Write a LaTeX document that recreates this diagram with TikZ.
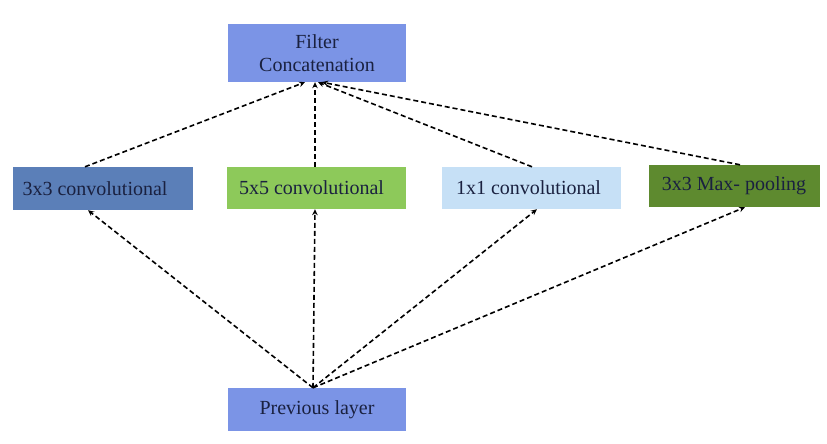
\documentclass[tikz,border=0pt]{standalone}
\usepackage{fontspec}
\setmainfont{Liberation Serif}
\usetikzlibrary{arrows.meta}
\definecolor{periwinkle}{HTML}{7B94E6}
\definecolor{steelblue}{HTML}{5B7FB8}
\definecolor{leafgreen}{HTML}{8DC95A}
\definecolor{paleblue}{HTML}{C6E0F6}
\definecolor{olivegreen}{HTML}{5E8A2F}
\definecolor{inkblue}{HTML}{1A2140}
\tikzset{
  layerbox/.style={inner sep=0pt, minimum height=42pt, text=inkblue,
    font=\fontsize{20}{23}\selectfont, align=center},
  flow/.style={draw=black, line width=1.6pt, dash pattern=on 5pt off 3pt,
    -{Stealth[length=6pt,width=5.5pt]}}
}
\begin{document}
\begin{tikzpicture}[x=1pt,y=1pt]
  \useasboundingbox (0,0) rectangle (827,444);
  \fill[white] (0,0) rectangle (827,444);

  % layer boxes
  \node[layerbox, fill=periwinkle, minimum width=178pt, minimum height=58pt] (fc) at (317,391) {Filter\\Concatenation};
  \node[layerbox, fill=steelblue, minimum width=180pt, minimum height=43pt] (c3) at (103,255.5) {3x3 convolutional\hspace*{16pt}};
  \node[layerbox, fill=leafgreen, minimum width=179pt] (c5) at (316.5,256) {5x5 convolutional\hspace*{10pt}};
  \node[layerbox, fill=paleblue, minimum width=179pt] (c1) at (531.5,256) {1x1 convolutional\hspace*{6pt}};
  \node[layerbox, fill=olivegreen, minimum width=171pt] (mp) at (734,258) {3x3 Max- pooling};
  \node[layerbox, fill=periwinkle, minimum width=178pt, minimum height=43pt] (prev) at (317,34.5) {Previous layer};

  % previous layer feeds every branch
  \draw[flow] ([xshift=-4pt]prev.north) -- ([xshift=-15pt]c3.south);
  \draw[flow] ([xshift=-4pt]prev.north) -- ([xshift=-1.5pt]c5.south);
  \draw[flow] ([xshift=-4pt]prev.north) -- ([xshift=5.5pt]c1.south);
  \draw[flow] ([xshift=-4pt]prev.north) -- ([xshift=11pt]mp.south);

  % branches merge into the concatenation
  \draw[flow] ([xshift=-18pt]c3.north) -- ([xshift=-12pt]fc.south);
  \draw[flow] ([xshift=-1.5pt]c5.north) -- ([xshift=-2pt]fc.south);
  \draw[flow] ([xshift=0.5pt]c1.north) -- ([xshift=1pt]fc.south);
  \draw[flow] ([xshift=6pt]mp.north) -- ([xshift=5pt]fc.south);
\end{tikzpicture}
\end{document}
